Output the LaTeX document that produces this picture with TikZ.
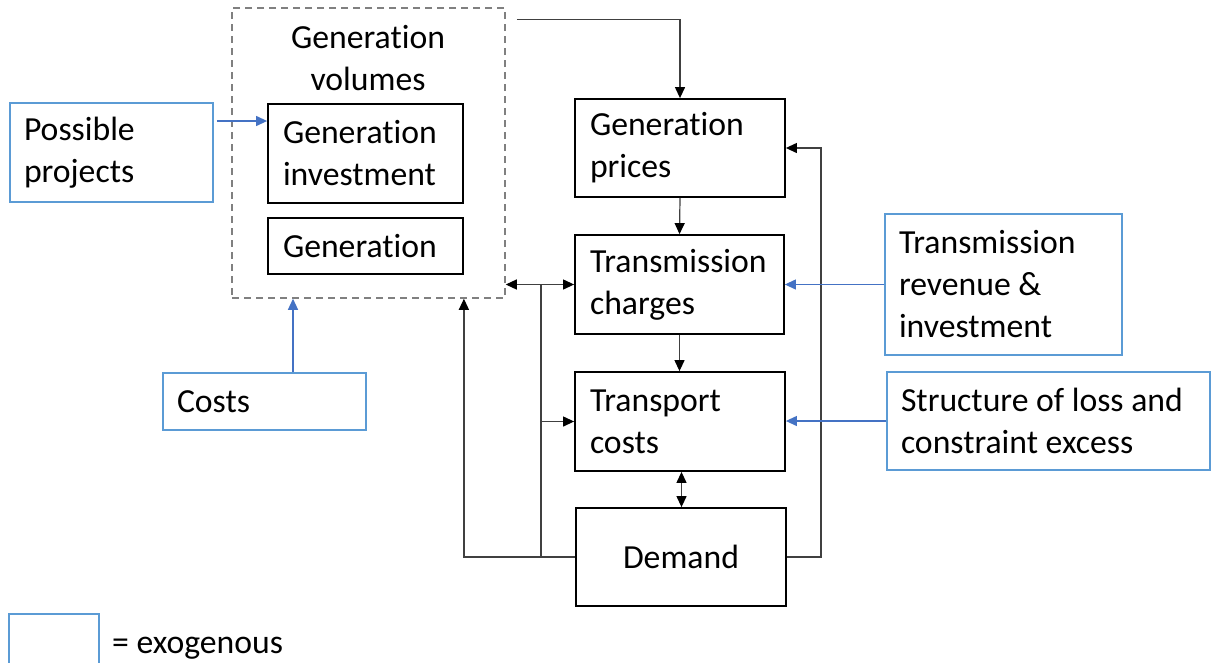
\documentclass[tikz,border=0pt]{standalone}
\usepackage{fontspec}
\setmainfont{Carlito}[Ligatures={NoCommon}]
\usetikzlibrary{arrows.meta}
\definecolor{exoblue}{HTML}{5B9BD5}
\definecolor{arrblue}{HTML}{4472C4}
\definecolor{dashgray}{HTML}{808080}
\begin{document}
\begin{tikzpicture}[x=1pt,y=-1pt,
  every node/.style={font=\fontsize{33.7pt}{42pt}\selectfont, inner sep=0pt},
  bbox/.style={draw=black, line width=1.8pt, rectangle, inner xsep=15pt, align=flush left},
  exo/.style={draw=exoblue, line width=1.8pt, rectangle, inner xsep=14pt, align=flush left},
  dbox/.style={draw=dashgray, line width=1.5pt, dash pattern=on 7pt off 5pt, rectangle},
  arr/.style={draw=black!75, line width=1.2pt, -{Triangle[length=11pt,width=10pt,color=black]}},
  darr/.style={draw=black!75, line width=1.2pt, {Triangle[length=11pt,width=10pt,color=black]}-{Triangle[length=11pt,width=10pt,color=black]}},
  barr/.style={draw=arrblue, line width=1.2pt, -{Triangle[length=11pt,width=10pt]}},
  conn/.style={draw=black!75, line width=1.2pt}
]
\useasboundingbox[fill=white] (0,0) rectangle (1212,662);

% generation volumes group
\node[dbox, minimum width=273pt, minimum height=290pt] (vol) at (368.5,153) {};
\node[align=center] (voltext) at (368,58) {Generation\\volumes};
\node[bbox, minimum width=195pt, minimum height=99pt, text width=165pt] (inv) at (365.5,153.5) {Generation\\investment};
\node[bbox, minimum width=195pt, minimum height=56pt, text width=165pt] (gen) at (365.5,246) {Generation};

% exogenous inputs
\node[exo, minimum width=203pt, minimum height=99pt, text width=175pt] (pp) at (111.5,152.5) {Possible\\projects};
\node[exo, minimum width=203pt, minimum height=57pt, text width=175pt] (costs) at (264.5,401.5) {Costs};
\node[exo, minimum width=237pt, minimum height=141pt, text width=209pt] (trv) at (1003.5,284.5) {Transmission\\revenue \&\\investment};
\node[exo, minimum width=323pt, minimum height=98pt, text width=295pt] (sl) at (1048.5,421) {Structure of loss and\\constraint excess};

% main chain
\node[bbox, minimum width=210pt, minimum height=98pt, text width=180pt] (gp) at (680,148) {Generation\\prices};
\node[bbox, minimum width=209pt, minimum height=99pt, text width=179pt] (tc) at (679.5,284.5) {Transmission\\charges};
\node[bbox, minimum width=210pt, minimum height=99pt, text width=180pt] (tr) at (680,421.5) {Transport\\costs};
\node[bbox, minimum width=210pt, minimum height=98pt, align=center] (dem) at (681,557) {Demand};

% legend
\node[draw=exoblue, line width=1.8pt, minimum width=90pt, minimum height=56pt] (leg) at (54,642) {};
\node[anchor=base west] (legtext) at (112,653) {= exogenous};

% connectors
\coordinate (j1) at (541,284.5);
\coordinate (j2) at (541,557);
\coordinate (ppa) at ([xshift=3pt,yshift=31.5pt]pp.east);
\coordinate (csa) at ([xshift=28.5pt]costs.north);
\draw[arr] ([xshift=11pt,yshift=-12pt]vol.north east) -| (gp.north);
\draw[arr] (gp.south) -- (tc.north);
\draw[arr] (tc.south) -- (tc.south |- tr.north);
\draw[darr] ([xshift=1.5pt]tr.south) -- ([xshift=0.5pt]dem.north);
\draw[darr] (vol.east |- tc.west) -- (tc.west);
\draw[conn] (j1) -- (j2);
\draw[arr] (j1 |- tr.west) -- (tr.west);
\draw[arr] (dem.west) -| (inv.south east |- vol.south);
\draw[arr] (dem.east) -- ++(34,0) |- (gp.east);

\draw[barr] (ppa) -- (inv.west |- ppa);
\draw[barr] (csa) -- (csa |- vol.south);
\draw[barr] (trv.west) -- (tc.east);
\draw[barr] (sl.west) -- (sl.west -| tr.east);
\end{tikzpicture}
\end{document}
